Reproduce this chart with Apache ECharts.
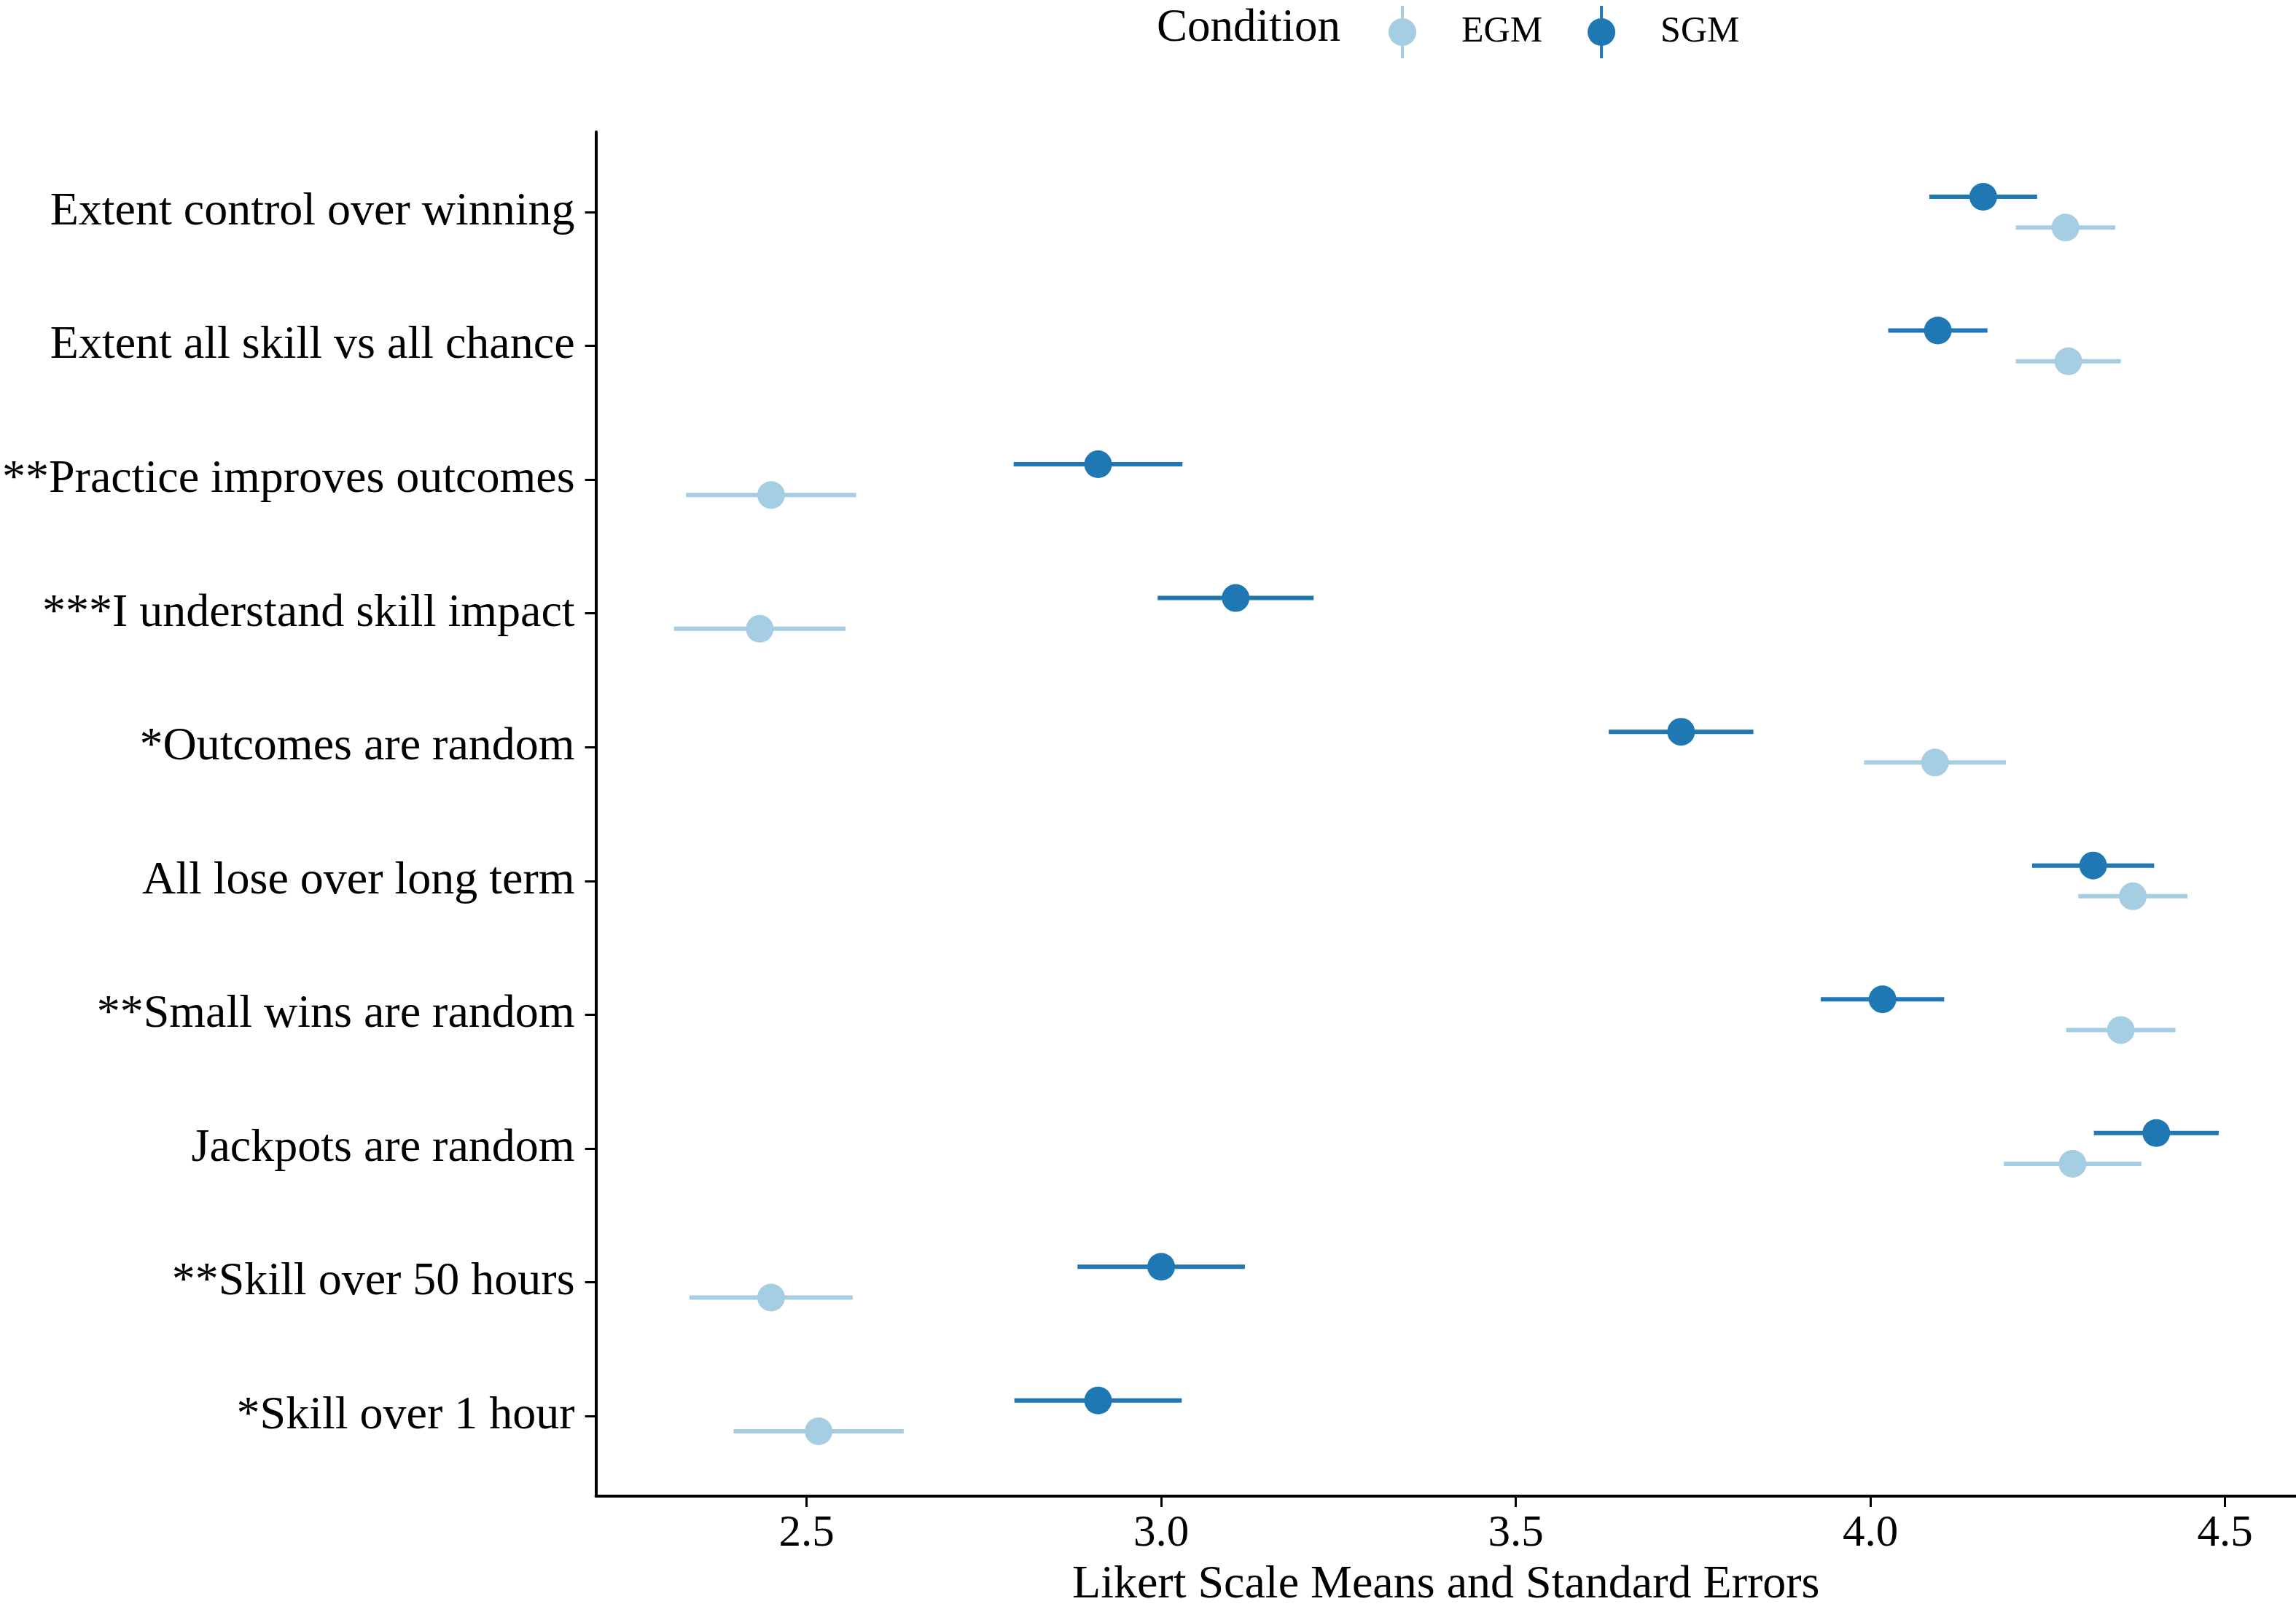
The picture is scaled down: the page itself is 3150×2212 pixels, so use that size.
<!DOCTYPE html>
<html>
<head>
<meta charset="utf-8">
<script src="https://cdn.jsdelivr.net/npm/echarts@6/dist/echarts.min.js"></script>
<style>
  html, body { margin: 0; padding: 0; background: #fff; }
  #chart { width: 3150px; height: 2212px; }
</style>
</head>
<body>
<div id="chart"></div>
<script>
// items, top to bottom
var categories = [
  'Extent control over winning',
  'Extent all skill vs all chance',
  '**Practice improves outcomes',
  '***I understand skill impact',
  '*Outcomes are random',
  'All lose over long term',
  '**Small wins are random',
  'Jackpots are random',
  '**Skill over 50 hours',
  '*Skill over 1 hour'
];
var sgmMean = [4.159, 4.095, 2.911, 3.105, 3.733, 4.314, 4.017, 4.403, 3.000, 2.911];
var sgmSE   = [0.076, 0.070, 0.119, 0.110, 0.102, 0.086, 0.087, 0.088, 0.118, 0.118];
var egmMean = [4.275, 4.279, 2.450, 2.434, 4.091, 4.370, 4.353, 4.285, 2.450, 2.517];
var egmSE   = [0.070, 0.074, 0.120, 0.121, 0.100, 0.077, 0.077, 0.097, 0.115, 0.120];
var xTicks = [2.5, 3.0, 3.5, 4.0, 4.5];

var colEGM = '#a6cee3';
var colSGM = '#1f78b4';
var dodge = 0.115;
var font = 'Liberation Serif';

function buildRows(means, ses, offset) {
  var rows = [];
  for (var i = 0; i < means.length; i++) {
    rows.push([means[i], i + offset, means[i] - ses[i], means[i] + ses[i]]);
  }
  return rows;
}

// horizontal error bar + point
function renderPoint(color) {
  return function (params, api) {
    var y = api.value(1);
    var p = api.coord([api.value(0), y]);
    var a = api.coord([api.value(2), y]);
    var b = api.coord([api.value(3), y]);
    return {
      type: 'group',
      children: [
        { type: 'line', shape: { x1: a[0], y1: a[1], x2: b[0], y2: b[1] },
          style: { stroke: color, lineWidth: 6 } },
        { type: 'circle', shape: { cx: p[0], cy: p[1], r: 19 },
          style: { fill: color } }
      ]
    };
  };
}

var legendIcon = 'path://M17,0 h4 v18 h-4 z M17,54 h4 v18 h-4 z M0,36 a19,19 0 1,1 38,0 a19,19 0 1,1 -38,0 z';
var rowIdx = categories.map(function (c, i) { return i; });

var chart = echarts.init(document.getElementById('chart'));
chart.setOption({
  backgroundColor: '#fff',
  animation: false,
  textStyle: { fontFamily: font, color: '#000' },
  graphic: [{
    type: 'text', left: 1587, top: 8,
    style: { text: 'Condition', font: '63px "Liberation Serif"', fill: '#000' }
  }],
  legend: {
    left: 1900, top: 3,
    itemWidth: 38, itemHeight: 72, itemGap: 62,
    textStyle: { fontFamily: font, fontSize: 50, color: '#000', padding: [8, 0, 0, 57] },
    data: [
      { name: 'EGM', icon: legendIcon, itemStyle: { color: colEGM } },
      { name: 'SGM', icon: legendIcon, itemStyle: { color: colSGM } }
    ]
  },
  grid: { left: 817, right: 0, top: 181, bottom: 147, containLabel: false },
  xAxis: {
    type: 'value', min: 2.203, max: 4.6,
    name: 'Likert Scale Means and Standard Errors',
    nameLocation: 'middle', nameGap: 90,
    nameTextStyle: { fontFamily: font, fontSize: 64, color: '#000' },
    axisLine: { show: true, onZero: false, lineStyle: { color: '#000', width: 4 } },
    axisTick: { show: true, length: 15, lineStyle: { color: '#000', width: 3 }, customValues: xTicks },
    axisLabel: {
      fontFamily: font, fontSize: 61, color: '#000', margin: 21,
      customValues: xTicks,
      formatter: function (v) { return v.toFixed(1); }
    },
    splitLine: { show: false }
  },
  yAxis: {
    type: 'value', min: -0.6, max: 9.6, inverse: true,
    axisLine: { show: true, onZero: false, lineStyle: { color: '#000', width: 4 } },
    axisTick: { show: true, length: 15, lineStyle: { color: '#000', width: 3 }, customValues: rowIdx },
    axisLabel: {
      fontFamily: font, fontSize: 64, color: '#000', margin: 29,
      customValues: rowIdx,
      formatter: function (v) { return categories[Math.round(v)]; }
    },
    splitLine: { show: false }
  },
  series: [
    {
      name: 'EGM', type: 'custom', color: colEGM,
      renderItem: renderPoint(colEGM),
      encode: { x: [0, 2, 3], y: 1 },
      data: buildRows(egmMean, egmSE, dodge)
    },
    {
      name: 'SGM', type: 'custom', color: colSGM,
      renderItem: renderPoint(colSGM),
      encode: { x: [0, 2, 3], y: 1 },
      data: buildRows(sgmMean, sgmSE, -dodge)
    }
  ]
});
</script>
</body>
</html>
